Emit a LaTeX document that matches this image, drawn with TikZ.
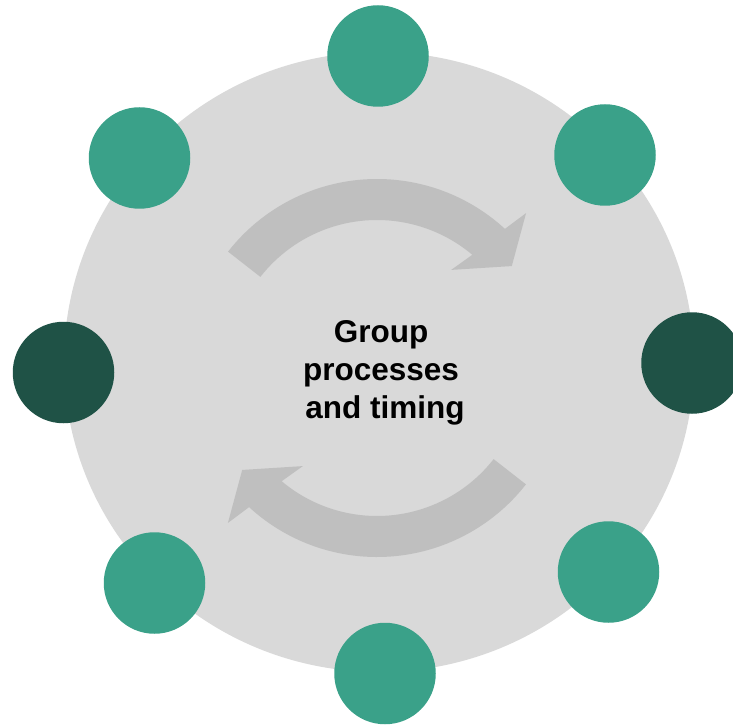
\documentclass[tikz,border=0pt]{standalone}
\usepackage{fontspec}
\setmainfont{Liberation Sans}
\usetikzlibrary{}

\definecolor{discgray}{HTML}{D9D9D9}
\definecolor{arrowgray}{HTML}{BFBFBF}
\definecolor{tealdot}{HTML}{3AA189}
\definecolor{darkdot}{HTML}{1F5246}

\tikzset{
  bubble/.style={circle, fill=tealdot, minimum size=101.5pt, inner sep=0pt},
  darkbubble/.style={bubble, fill=darkdot},
  centerlabel/.style={align=center, font=\bfseries\fontsize{31.5}{38}\selectfont}
}

\begin{document}
\begin{tikzpicture}[x=1pt, y=1pt]

    \useasboundingbox (0,0) rectangle (733,724);

    % Disc
    \fill[discgray] (379,362) ellipse [x radius=315pt, y radius=310pt];

    % Arrows
    \fill[arrowgray, shift={(377,356)}] (142:189pt) arc[start angle=142, end angle=47.4, radius=189pt]
        -- (46.1:215pt) -- (37.1:169pt) -- (52.9:123pt) -- (49.9:148pt)
        arc[start angle=49.9, end angle=142, radius=148pt] -- cycle;
    \fill[arrowgray, shift={(377,356)}, rotate=180] (142:189pt) arc[start angle=142, end angle=47.4, radius=189pt]
        -- (46.1:215pt) -- (37.1:169pt) -- (52.9:123pt) -- (49.9:148pt)
        arc[start angle=49.9, end angle=142, radius=148pt] -- cycle;

    % Circles
    \node[bubble] (top) at (378,668) {};
    \node[bubble] (topright) at (605,569) {};
    \node[darkbubble] (right) at (692,361) {};
    \node[bubble] (bottomright) at (608.5,152) {};
    \node[bubble] (bottom) at (385,50.5) {};
    \node[bubble] (bottomleft) at (154.5,141) {};
    \node[darkbubble] (left) at (63.5,351.5) {};
    \node[bubble] (topleft) at (139.5,566) {};

    % Text
    \node[centerlabel] (label) at (381,351) {Group\\processes\\\hspace*{8pt}and timing};

\end{tikzpicture}
\end{document}
